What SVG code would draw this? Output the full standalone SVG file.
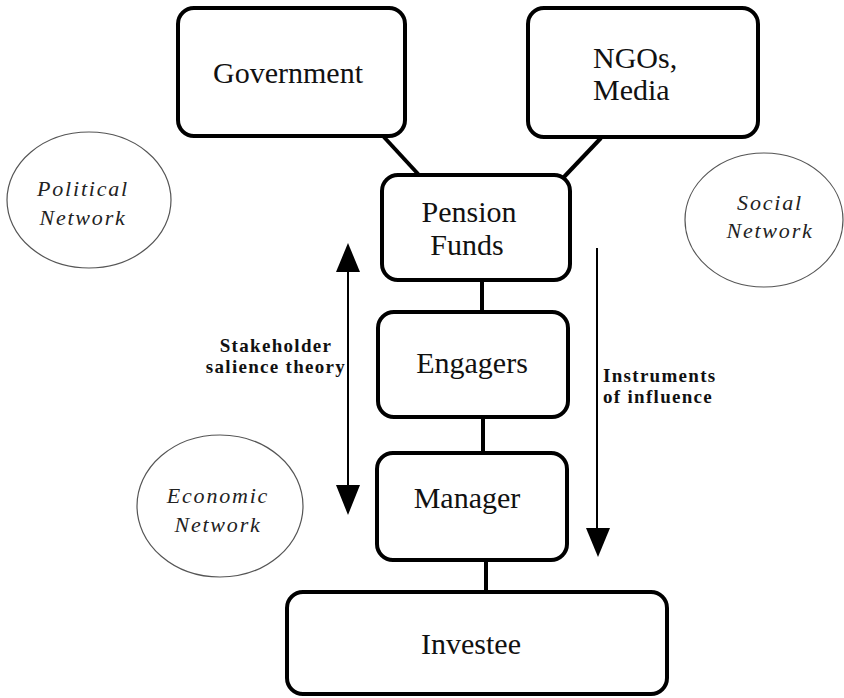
<svg xmlns="http://www.w3.org/2000/svg" width="844" height="698" viewBox="0 0 844 698">
<style>
text{font-family:"Liberation Serif",serif}
.box{fill:#fff;stroke:#000;stroke-width:4}
.net{fill:#fff;stroke:#555;stroke-width:1.2}
.lbl{font-size:30px;fill:#111;text-anchor:middle}
.it{font-size:22px;font-style:italic;letter-spacing:1.8px;fill:#222;text-anchor:middle}
.bd{font-size:19px;font-weight:bold;letter-spacing:1.3px;fill:#111}
.ln{stroke:#000;stroke-width:4;fill:none}
.ar{stroke:#000;stroke-width:2;fill:none}
</style>
<rect width="844" height="698" fill="#fff"/>
<g id="connectors">
<line class="ln" x1="383" y1="136" x2="419" y2="175"/>
<line class="ln" x1="601" y1="138" x2="563" y2="178"/>
<line class="ln" x1="482" y1="280" x2="482" y2="312"/>
<line class="ln" x1="483" y1="417" x2="483" y2="453"/>
<line class="ln" x1="486" y1="560" x2="486" y2="592"/>
<line class="ar" x1="348" y1="268" x2="348" y2="489"/>
<polygon points="348,243 336,272 360,272" fill="#000"/>
<polygon points="348,515 336,485 360,485" fill="#000"/>
<line class="ar" x1="597" y1="248" x2="597" y2="531"/>
<polygon points="598,557 586,528 610,528" fill="#000"/>
</g>
<g id="political-network">
<ellipse class="net" cx="89" cy="200" rx="82" ry="68"/>
<text class="it" x="83" y="196">Political</text>
<text class="it" x="83" y="225">Network</text>
</g>
<g id="social-network">
<ellipse class="net" cx="764" cy="220" rx="79" ry="67"/>
<text class="it" x="770" y="210">Social</text>
<text class="it" x="770" y="238">Network</text>
</g>
<g id="economic-network">
<ellipse class="net" cx="220" cy="506" rx="83" ry="71"/>
<text class="it" x="218" y="503">Economic</text>
<text class="it" x="218" y="532">Network</text>
</g>
<g id="government">
<rect class="box" x="178" y="8" width="227" height="128" rx="16"/>
<text class="lbl" x="288" y="83">Government</text>
</g>
<g id="ngos-media">
<rect class="box" x="528" y="8" width="230" height="129" rx="16"/>
<text class="lbl" x="593" y="68" style="text-anchor:start">NGOs,</text>
<text class="lbl" x="593" y="100" style="text-anchor:start">Media</text>
</g>
<g id="pension-funds">
<rect class="box" x="382" y="175" width="188" height="105" rx="16"/>
<text class="lbl" x="469" y="222">Pension</text>
<text class="lbl" x="467" y="255">Funds</text>
</g>
<g id="engagers">
<rect class="box" x="378" y="312" width="190" height="105" rx="16"/>
<text class="lbl" x="472" y="373">Engagers</text>
</g>
<g id="manager">
<rect class="box" x="377" y="453" width="190" height="107" rx="16"/>
<text class="lbl" x="467" y="508">Manager</text>
</g>
<g id="investee">
<rect class="box" x="287" y="592" width="380" height="102" rx="16"/>
<text class="lbl" x="471" y="654">Investee</text>
</g>
<g id="stakeholder-label">
<text class="bd" x="276" y="352" text-anchor="middle">Stakeholder</text>
<text class="bd" x="276" y="373" text-anchor="middle">salience theory</text>
</g>
<g id="instruments-label">
<text class="bd" x="603" y="382">Instruments</text>
<text class="bd" x="603" y="403">of influence</text>
</g>
</svg>
